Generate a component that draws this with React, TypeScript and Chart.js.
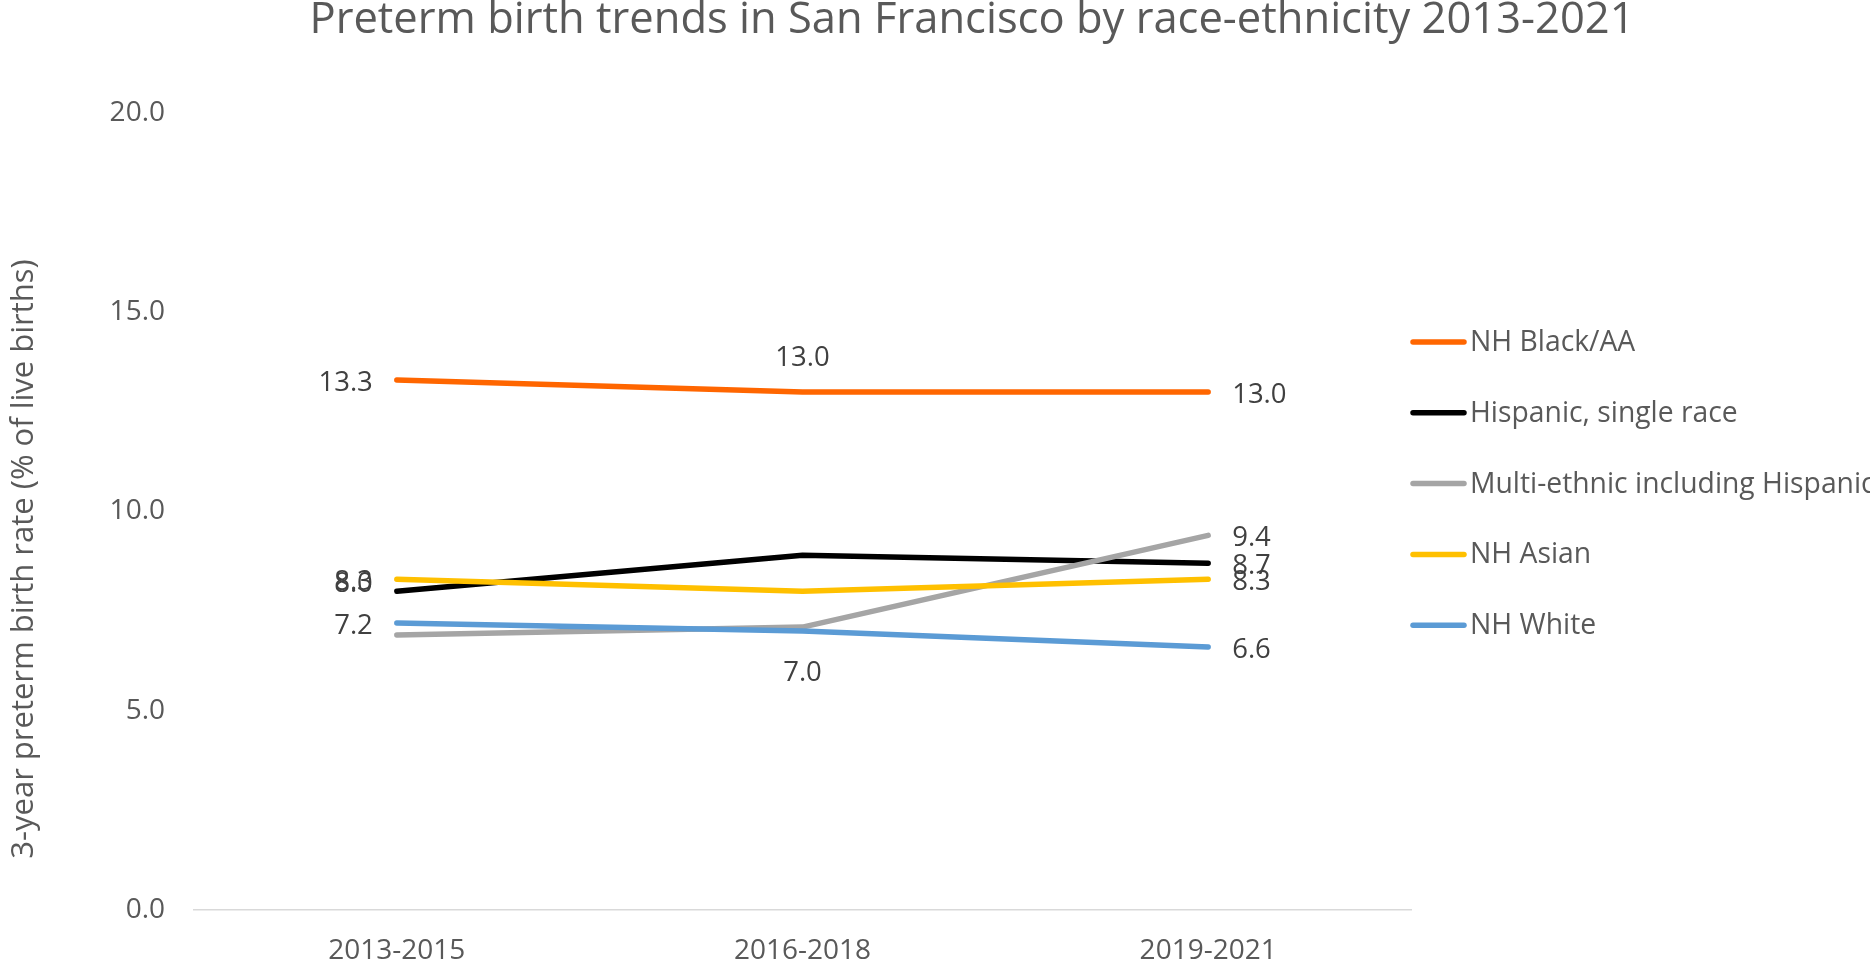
import React, { useEffect, useRef } from "react";
import { Chart, registerables } from "chart.js";

Chart.register(...registerables);

const periods = ["2013-2015", "2016-2018", "2019-2021"];
const seriesNames = [
  "NH Black/AA",
  "Hispanic, single race",
  "Multi-ethnic including Hispanic",
  "NH Asian",
  "NH White",
];
const blackValues = [13.3, 13.0, 13.0];
const hispanicValues = [8.0, 8.9, 8.7];
const multiValues = [6.9, 7.1, 9.4];
const asianValues = [8.3, 8.0, 8.3];
const whiteValues = [7.2, 7.0, 6.6];
const yTickValues = [0, 5, 10, 15, 20];
const titleText = "Preterm birth trends in San Francisco by race-ethnicity 2013-2021";
const yAxisTitle = "3-year preterm birth rate (% of live births)";

const FONT = "'Open Sans', 'Noto Sans', sans-serif";
const TEXT_COLOR = "#595959";
const LABEL_COLOR = "#404040";

const seriesColors = ["#FF6600", "#000000", "#A5A5A5", "#FFC000", "#5B9BD5"];
const seriesValues = [blackValues, hispanicValues, multiValues, asianValues, whiteValues];
// label placement per point (style only, values come from the arrays above)
const labelPlacements: any[][] = [
  [{ pos: "left" }, { pos: "above" }, { pos: "right" }],
  [{ pos: "left", dy: -10 }, null, { pos: "right" }],
  [null, null, { pos: "right" }],
  [{ pos: "left" }, null, { pos: "right" }],
  [{ pos: "left" }, { pos: "below" }, { pos: "right" }],
];

const overlayPlugin = {
  id: "overlay",
  afterDatasetsDraw(chart: any) {
    const ctx = chart.ctx;
    const area = chart.chartArea;
    ctx.save();
    // data labels
    ctx.font = `27.5px ${FONT}`;
    ctx.fillStyle = LABEL_COLOR;
    chart.data.datasets.forEach((ds: any, i: number) => {
      const meta = chart.getDatasetMeta(i);
      const places = ds.labelPlacement as any[];
      places.forEach((p, j) => {
        if (!p) return;
        const pt = meta.data[j];
        const txt = Number(ds.data[j]).toFixed(1);
        const dy = (p.dy || 0) + 3;
        ctx.textBaseline = "middle";
        if (p.pos === "left") {
          ctx.textAlign = "right";
          ctx.fillText(txt, pt.x - 24, pt.y + dy);
        } else if (p.pos === "right") {
          ctx.textAlign = "left";
          ctx.fillText(txt, pt.x + 24, pt.y + dy);
        } else if (p.pos === "above") {
          ctx.textAlign = "center";
          ctx.fillText(txt, pt.x, pt.y - 37 + dy);
        } else if (p.pos === "below") {
          ctx.textAlign = "center";
          ctx.fillText(txt, pt.x, pt.y + 39 + dy);
        }
      });
    });

    // title
    ctx.font = `43.5px ${FONT}`;
    ctx.fillStyle = TEXT_COLOR;
    ctx.textAlign = "center";
    ctx.textBaseline = "middle";
    ctx.fillText(titleText, 972, 21);

    // y axis title
    ctx.save();
    ctx.translate(24, 559);
    ctx.rotate(-Math.PI / 2);
    ctx.font = `31px ${FONT}`;
    ctx.fillText(yAxisTitle, 0, 0);
    ctx.restore();

    // legend
    const x0 = area.right;
    chart.data.datasets.forEach((ds: any, i: number) => {
      const y = 342 + i * 70.8;
      ctx.strokeStyle = ds.borderColor;
      ctx.lineWidth = 5.5;
      ctx.lineCap = "round";
      ctx.beginPath();
      ctx.moveTo(x0 + 2, y);
      ctx.lineTo(x0 + 53, y);
      ctx.stroke();
      ctx.font = `28.3px ${FONT}`;
      ctx.fillStyle = TEXT_COLOR;
      ctx.textAlign = "left";
      ctx.textBaseline = "middle";
      ctx.fillText(ds.label, x0 + 59, y + 1);
    });
    ctx.restore();
  },
};

export default function App() {
  const canvasRef = useRef<HTMLCanvasElement | null>(null);

  useEffect(() => {
    document.body.style.margin = "0";
    const canvas = canvasRef.current!;
    const chart = new Chart(canvas, {
      type: "line",
      data: {
        labels: periods,
        datasets: seriesNames.map((name, i) => ({
          label: name,
          data: seriesValues[i],
          borderColor: seriesColors[i],
          backgroundColor: seriesColors[i],
          borderWidth: 5.5,
          pointRadius: 0,
          pointHoverRadius: 0,
          tension: 0,
          fill: false,
          borderCapStyle: "round",
          borderJoinStyle: "round",
          order: seriesNames.length - 1 - i,
          labelPlacement: labelPlacements[i],
        })) as any,
      },
      options: {
        responsive: false,
        animation: false,
        events: [],
        layout: { padding: { top: 113, right: 459, left: 0, bottom: 0 } },
        plugins: {
          legend: { display: false },
          title: { display: false },
          tooltip: { enabled: false },
        },
        scales: {
          x: {
            offset: true,
            grid: { display: false, drawTicks: false },
            border: { display: true, color: "#D9D9D9", width: 1.5 },
            ticks: {
              color: TEXT_COLOR,
              font: { family: FONT, size: 28 },
              padding: 24,
              maxRotation: 0,
            },
            afterFit: (scale: any) => {
              scale.height = 59;
            },
          },
          y: {
            min: 0,
            max: 20,
            grid: { display: false, drawTicks: false },
            border: { display: false },
            afterBuildTicks: (scale: any) => {
              scale.ticks = yTickValues.map((v) => ({ value: v }));
            },
            ticks: {
              color: TEXT_COLOR,
              font: { family: FONT, size: 28 },
              padding: 29,
              callback: (v: any) => Number(v).toFixed(1),
            },
            afterFit: (scale: any) => {
              scale.width = 194;
            },
          },
        },
      },
      plugins: [overlayPlugin],
    });
    return () => chart.destroy();
  }, []);

  return (
    <div style={{ position: "fixed", left: 0, top: 0, width: 1870, height: 969, background: "#fff" }}>
      <canvas ref={canvasRef} width={1870} height={969} style={{ width: 1870, height: 969, display: "block" }} />
    </div>
  );
}
